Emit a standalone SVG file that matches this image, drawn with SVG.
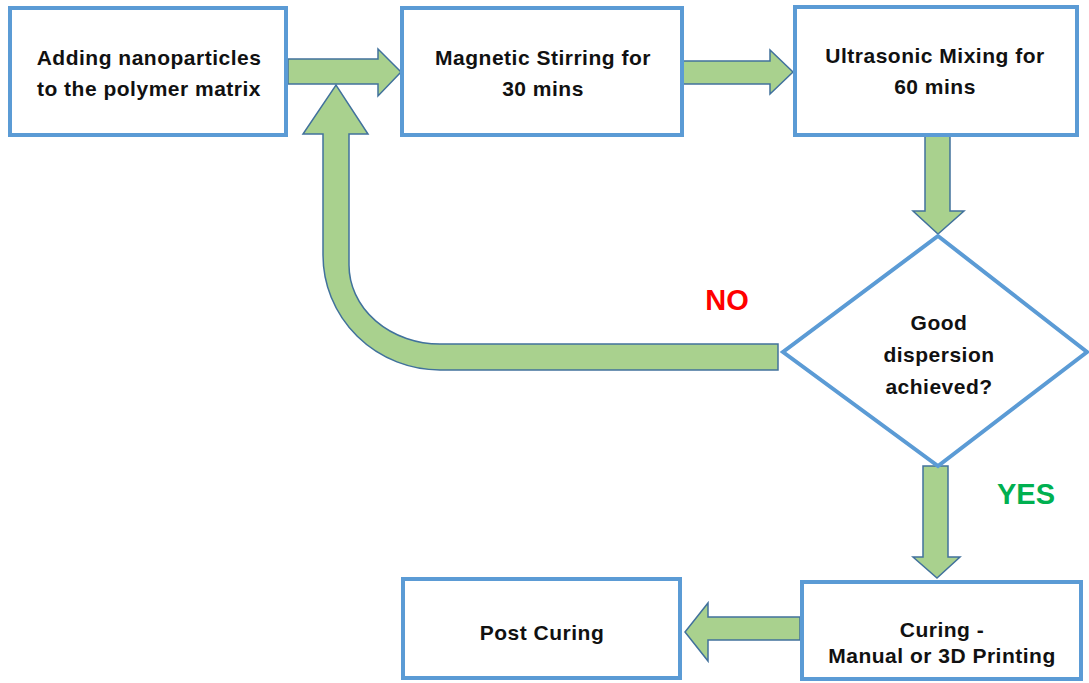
<svg xmlns="http://www.w3.org/2000/svg" width="1089" height="683" viewBox="0 0 1089 683">
<style>
.box{fill:#fff;stroke:#5B9BD5;stroke-width:4}
.arr{fill:#A9D18E;stroke:#41719C;stroke-width:1.5;stroke-linejoin:miter}
.t{font-family:"Liberation Sans",Arial,sans-serif;font-weight:bold;font-size:21px;letter-spacing:0.5px;fill:#111;text-anchor:middle}
.lbl{font-family:"Liberation Sans",Arial,sans-serif;font-weight:bold;font-size:29px;text-anchor:middle}
</style>
<rect width="1089" height="683" fill="#fff"/>
<g id="connectors">
<polygon class="arr" points="288,59 378,59 378,49 401,72 378,96 378,84 288,84"/>
<polygon class="arr" points="680,61 770,61 770,50 793,72 770,94 770,84 680,84"/>
<polygon class="arr" points="925,135 950,135 950,211 964,211 938,234 913,211 925,211"/>
<path class="arr" d="M778,344 H440 A91,79 0 0 1 349,265 V134 H368 L336,85 L303,134 H323 V255 A117,115 0 0 0 440,370 H778 Z"/>
<polygon class="arr" points="923,466 948,466 948,557 960,557 937,578 913,557 923,557"/>
<polygon class="arr" points="800,617 708,617 708,603 685,632 708,661 708,640 800,640"/>
<text class="lbl" x="727" y="310" fill="#FF0000">NO</text>
<text class="lbl" x="1026" y="504" fill="#00B050">YES</text>
</g>
<g id="node-adding">
<rect class="box" x="10" y="8" width="276" height="127"/>
<text class="t" x="149" y="65">Adding nanoparticles</text>
<text class="t" x="149" y="96">to the polymer matrix</text>
</g>
<g id="node-magnetic">
<rect class="box" x="402" y="8" width="280" height="127"/>
<text class="t" x="543" y="65">Magnetic Stirring for</text>
<text class="t" x="543" y="96">30 mins</text>
</g>
<g id="node-ultrasonic">
<rect class="box" x="795" y="7" width="282" height="128"/>
<text class="t" x="935" y="63">Ultrasonic Mixing for</text>
<text class="t" x="935" y="94">60 mins</text>
</g>
<g id="node-decision">
<polygon class="box" points="938,236 1087,352 938,466 783,352"/>
<text class="t" x="939" y="330">Good</text>
<text class="t" x="939" y="362">dispersion</text>
<text class="t" x="939" y="394">achieved?</text>
</g>
<g id="node-curing">
<rect class="box" x="802" y="582" width="279" height="97"/>
<text class="t" x="942" y="637">Curing -</text>
<text class="t" x="942" y="663">Manual or 3D Printing</text>
</g>
<g id="node-postcuring">
<rect class="box" x="403" y="579" width="277" height="99"/>
<text class="t" x="542" y="640">Post Curing</text>
</g>
</svg>
